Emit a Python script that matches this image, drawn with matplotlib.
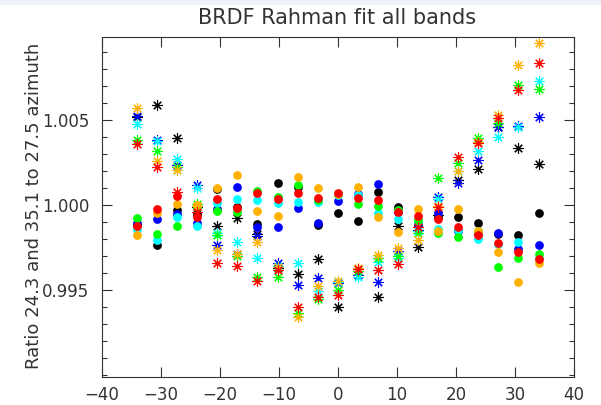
import numpy as np
import matplotlib
matplotlib.use("Agg")
import matplotlib.pyplot as plt
from matplotlib.ticker import FixedLocator, MultipleLocator
from matplotlib.patches import Rectangle

# view zenith angles (deg)
angles = [-34.0, -30.6, -27.2, -23.8, -20.4, -17.0, -13.6, -10.2, -6.8, -3.4, 0.0,
          3.4, 6.8, 10.2, 13.6, 17.0, 20.4, 23.8, 27.2, 30.6, 34.0]

band_colors = ['#000000', '#0000ff', '#00ffff', '#00ff00', '#ffb000', '#ff0000']

# ratio 35.1 / 27.5 azimuth (filled dots), one list per band
dots_black = [0.9988, 0.99765, 0.99971, 0.9995, 1.00092, 0.9999, 0.99888, 1.00127, 1.00108, 0.99882, 0.99955,
              0.99908, 1.00078, 0.99986, 0.9988, 0.9993, 0.99931, 0.99896, 0.9983, 0.99824, 0.99955]
dots_blue = [0.99896, 0.99916, 0.99947, 0.99892, 0.99975, 1.00104, 0.99873, 0.99873, 0.9998, 0.99892, 1.00025,
             1.00065, 1.00124, 0.9996, 0.9989, 0.99951, 0.9985, 0.9983, 0.99837, 0.99739, 0.99765]
dots_cyan = [0.99853, 0.99794, 0.99931, 0.99876, 1.0001, 1.00034, 1.00029, 1.0001, 1.0002, 1.0002, 1.0006,
             1.0006, 0.99951, 0.99916, 0.999, 0.99857, 0.99853, 0.99798, 0.9977, 0.99784, 0.9969]
dots_green = [0.99922, 0.99829, 0.99876, 0.9999, 0.99965, 0.99961, 1.00082, 1.00049, 1.00118, 1.0003, 1.00062,
              1.00006, 0.99994, 0.9997, 0.99912, 0.99833, 0.99814, 0.99849, 0.99633, 0.99686, 0.99712]
dots_orange = [0.99824, 0.99955, 1.00004, 1.0, 1.00098, 1.00176, 0.99967, 0.99935, 1.00163, 1.00098, 1.00066,
               1.00104, 0.99931, 0.99843, 0.99975, 0.9985, 0.99975, 0.9985, 0.99725, 0.99549, 0.99661]
dots_red = [0.99876, 0.99976, 1.00053, 0.99928, 1.00034, 0.99984, 1.00069, 1.00034, 1.00073, 1.00039, 1.00069,
            1.00039, 1.00029, 0.99961, 0.99935, 0.99916, 0.99869, 0.99824, 0.99775, 0.99725, 0.9968]

# ratio 24.3 / 27.5 azimuth (asterisks)
stars_black = [1.0052, 1.00588, 1.00392, 0.9999, 0.99876, 0.99922, 0.99829, 0.9963, 0.99594, 0.9968, 0.99398,
               0.9961, 0.99461, 0.99876, 0.99755, 0.9994, 1.00147, 1.0021, 1.0046, 1.00333, 1.00241]
stars_blue = [1.00524, 1.00385, 1.00235, 1.00118, 0.99765, 0.9971, 0.9982, 0.99657, 0.99529, 0.99569, 0.9954,
              0.9959, 0.99549, 0.99731, 0.99855, 1.00045, 1.0013, 1.00265, 1.00461, 1.00465, 1.0052]
stars_cyan = [1.00476, 1.00375, 1.00271, 1.001, 0.99837, 0.99784, 0.99686, 0.9964, 0.99657, 0.99496, 0.99545,
              0.99578, 0.99665, 0.9969, 0.9985, 1.00035, 1.00202, 1.0032, 1.00402, 1.00461, 1.00731]
stars_green = [1.00382, 1.0032, 1.00225, 1.00005, 0.99824, 0.997, 0.99578, 0.99575, 0.99363, 0.9945, 0.995,
               0.9961, 0.99686, 0.997, 0.99833, 1.00157, 1.00249, 1.00392, 1.00484, 1.00706, 1.0068]
stars_orange = [1.00569, 1.00261, 1.00206, 0.99995, 0.99735, 0.99712, 0.99784, 0.99633, 0.99343, 0.99524, 0.99555,
                0.99627, 0.99706, 0.9975, 0.99794, 0.99995, 1.002, 1.0037, 1.00529, 1.00824, 1.00951]
stars_red = [1.00359, 1.00222, 1.00078, 0.9996, 0.99657, 0.99641, 0.99555, 0.99618, 0.99402, 0.99461, 0.99471,
             0.99622, 0.99618, 0.99653, 0.99869, 0.99986, 1.00284, 1.00367, 1.0051, 1.00676, 1.00837]

dots = [dots_black, dots_blue, dots_cyan, dots_green, dots_orange, dots_red]
stars = [stars_black, stars_blue, stars_cyan, stars_green, stars_orange, stars_red]

x_ticks = [-40, -30, -20, -10, 0, 10, 20, 30, 40]
y_ticks = [0.995, 1.000, 1.005]
y_tick_labels = ['0.995', '1.000', '1.005']

fig = plt.figure(figsize=(6.01, 4.05), dpi=100)
fig.patches.append(Rectangle((0, 1 - 5 / 405), 1, 5 / 405, transform=fig.transFigure,
                             facecolor='#eef1f5', edgecolor='none'))
ax = fig.add_axes([101.5 / 601, 1 - 376.7 / 405, 472.5 / 601, 340 / 405])

for col, d, s in zip(band_colors, dots, stars):
    ax.plot(angles, s, linestyle='none', marker=(8, 2, 0), ms=7.5, mew=0.8, color=col)
    ax.plot(angles, d, linestyle='none', marker='o', ms=6.3, mew=0, color=col)

ax.set_xlim(-40, 40)
ax.set_ylim(0.9899, 1.0099)
ax.xaxis.set_major_locator(FixedLocator(x_ticks))
ax.yaxis.set_major_locator(FixedLocator(y_ticks))
ax.set_yticklabels(y_tick_labels)
ax.yaxis.set_minor_locator(MultipleLocator(0.001))

txt = '#333333'
ax.tick_params(which='both', direction='in', top=True, right=True, color=txt, width=0.8,
               labelsize=12, labelcolor=txt)
ax.tick_params(which='major', length=7)
ax.tick_params(which='minor', length=3.5)
ax.tick_params(axis='x', pad=7)
ax.tick_params(axis='y', pad=9)
for sp in ax.spines.values():
    sp.set_color(txt)
    sp.set_linewidth(0.8)

fig.text(337.5 / 601, 1 - 18 / 405, 'BRDF Rahman fit all bands', ha='center', va='center',
         fontsize=15, color=txt)
fig.text(34 / 601, 1 - 206 / 405, 'Ratio 24.3 and 35.1 to 27.5 azimuth', ha='center', va='center',
         rotation=90, fontsize=13, color=txt)

fig.savefig('out.png', dpi=100)
